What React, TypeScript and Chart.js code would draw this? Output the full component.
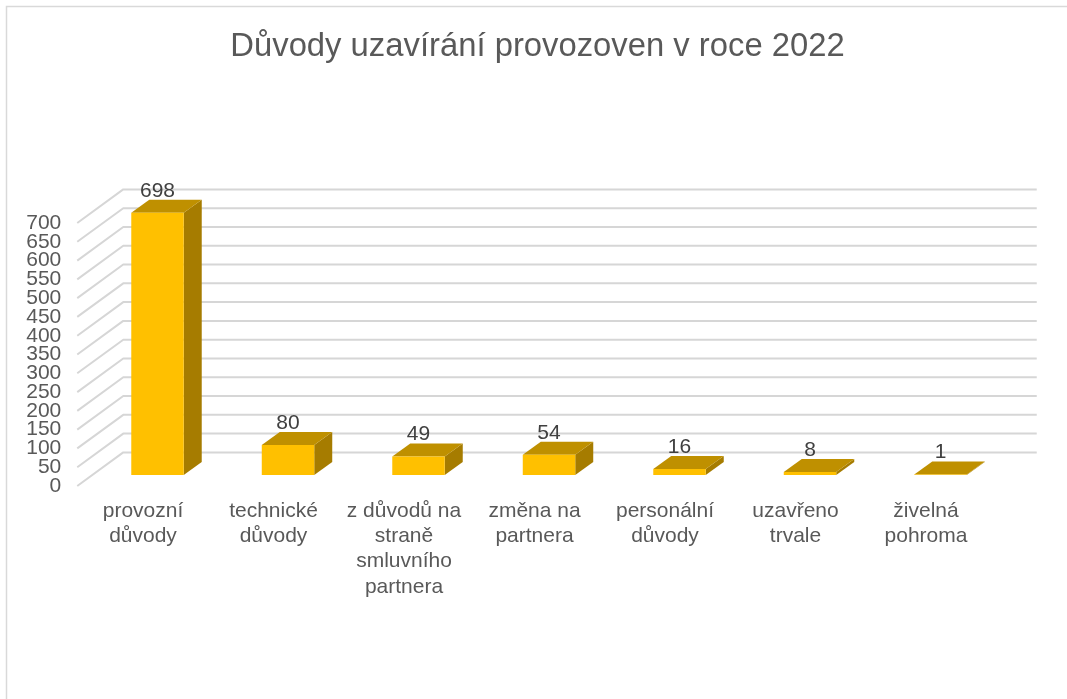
import React, { useEffect, useRef } from "react";
import { Chart, registerables } from "chart.js";

Chart.register(...registerables);

const titleText = "Důvody uzavírání provozoven v roce 2022";
const categories = [
  ["provozní", "důvody"],
  ["technické", "důvody"],
  ["z důvodů na", "straně", "smluvního", "partnera"],
  ["změna na", "partnera"],
  ["personální", "důvody"],
  ["uzavřeno", "trvale"],
  ["živelná", "pohroma"],
];
const values = [698, 80, 49, 54, 16, 8, 1];

const FRONT = "#FFC000";
const TOP = "#BF9000";
const SIDE = "#A67C00";
const GRID = "#D6D6D6";
const TEXT = "#595959";
const LABEL = "#404040";
const FONT = '"Liberation Sans", Arial, sans-serif';

const BAR_DX = 18;
const BAR_DY = -13;
const WALL_FRONT = { dx: -15, dy: 11 };
const WALL_BACK = { dx: 31, dy: -22.6 };

const scene3d = {
  id: "scene3d",
  beforeDatasetsDraw(chart: any) {
    const { ctx, scales, chartArea } = chart;
    const y = scales.y;
    ctx.save();
    ctx.strokeStyle = GRID;
    ctx.lineWidth = 2;
    ctx.lineJoin = "round";
    for (const t of y.ticks) {
      const py = y.getPixelForValue(t.value);
      ctx.beginPath();
      ctx.moveTo(chartArea.left + WALL_FRONT.dx, py + WALL_FRONT.dy);
      ctx.lineTo(chartArea.left + WALL_BACK.dx, py + WALL_BACK.dy);
      ctx.lineTo(chartArea.right + WALL_BACK.dx, py + WALL_BACK.dy);
      ctx.stroke();
    }
    ctx.restore();
    // frame
    ctx.save();
    ctx.strokeStyle = "#D9D9D9";
    ctx.lineWidth = 1.5;
    ctx.beginPath();
    ctx.moveTo(6.5, chart.height);
    ctx.lineTo(6.5, 6.5);
    ctx.lineTo(chart.width, 6.5);
    ctx.stroke();
    ctx.restore();
    // bar depth faces
    const meta = chart.getDatasetMeta(0);
    ctx.save();
    meta.data.forEach((bar: any) => {
      const x0 = bar.x - bar.width / 2;
      const x1 = bar.x + bar.width / 2;
      const top = bar.y;
      const base = bar.base;
      ctx.fillStyle = SIDE;
      ctx.beginPath();
      ctx.moveTo(x1, top);
      ctx.lineTo(x1 + BAR_DX, top + BAR_DY);
      ctx.lineTo(x1 + BAR_DX, base + BAR_DY);
      ctx.lineTo(x1, base);
      ctx.closePath();
      ctx.fill();
      ctx.fillStyle = TOP;
      ctx.beginPath();
      ctx.moveTo(x0, top);
      ctx.lineTo(x1, top);
      ctx.lineTo(x1 + BAR_DX, top + BAR_DY);
      ctx.lineTo(x0 + BAR_DX, top + BAR_DY);
      ctx.closePath();
      ctx.fill();
    });
    ctx.restore();
  },
  afterDatasetsDraw(chart: any) {
    const { ctx } = chart;
    const meta = chart.getDatasetMeta(0);
    ctx.save();
    ctx.fillStyle = LABEL;
    ctx.font = `21px ${FONT}`;
    ctx.textAlign = "center";
    ctx.textBaseline = "middle";
    meta.data.forEach((bar: any, i: number) => {
      ctx.fillText(String(values[i]), bar.x, bar.y - 22);
    });
    ctx.restore();
  },
};

export default function App() {
  const ref = useRef<HTMLCanvasElement | null>(null);
  useEffect(() => {
    document.body.style.margin = "0";
    document.body.style.background = "#fff";
    const chart = new Chart(ref.current as HTMLCanvasElement, {
      type: "bar",
      data: {
        labels: categories as any,
        datasets: [
          {
            data: values,
            backgroundColor: FRONT,
            barPercentage: 1,
            categoryPercentage: 0.402,
          },
        ],
      },
      options: {
        responsive: false,
        animation: false,
        layout: { padding: { left: 8, right: 0, top: 0, bottom: 0 } },
        plugins: {
          legend: { display: false },
          tooltip: { enabled: false },
          title: {
            display: true,
            text: titleText,
            color: TEXT,
            font: { family: FONT, size: 32.8, weight: "normal", lineHeight: 1.2 },
            padding: { top: 27, bottom: 145.64 },
          },
        },
        scales: {
          x: {
            grid: { display: false, drawTicks: false },
            border: { display: false },
            ticks: {
              color: TEXT,
              font: { family: FONT, size: 21, lineHeight: 1.21 },
              autoSkip: false,
              minRotation: 0,
              maxRotation: 0,
              padding: 23,
              labelOffset: -14.5,
            },
            afterFit(s: any) {
              s.height = 224;
            },
          },
          y: {
            min: 0,
            max: 700,
            grid: { display: false, drawTicks: false },
            border: { display: false },
            ticks: {
              stepSize: 50,
              autoSkip: false,
              color: TEXT,
              font: { family: FONT, size: 21, lineHeight: 1 },
              padding: 31,
              labelOffset: 11,
            },
            afterFit(s: any) {
              s.width = 84.25;
            },
          },
          spacer: {
            type: "linear",
            position: "right",
            grid: { display: false, drawTicks: false },
            border: { display: false },
            ticks: { display: false },
            afterFit(s: any) {
              s.width = 61.25;
            },
          },
        },
      },
      plugins: [scene3d],
    } as any);
    return () => chart.destroy();
  }, []);
  return (
    <canvas
      ref={ref}
      width={1067}
      height={699}
      style={{ display: "block", width: 1067, height: 699 }}
    />
  );
}
